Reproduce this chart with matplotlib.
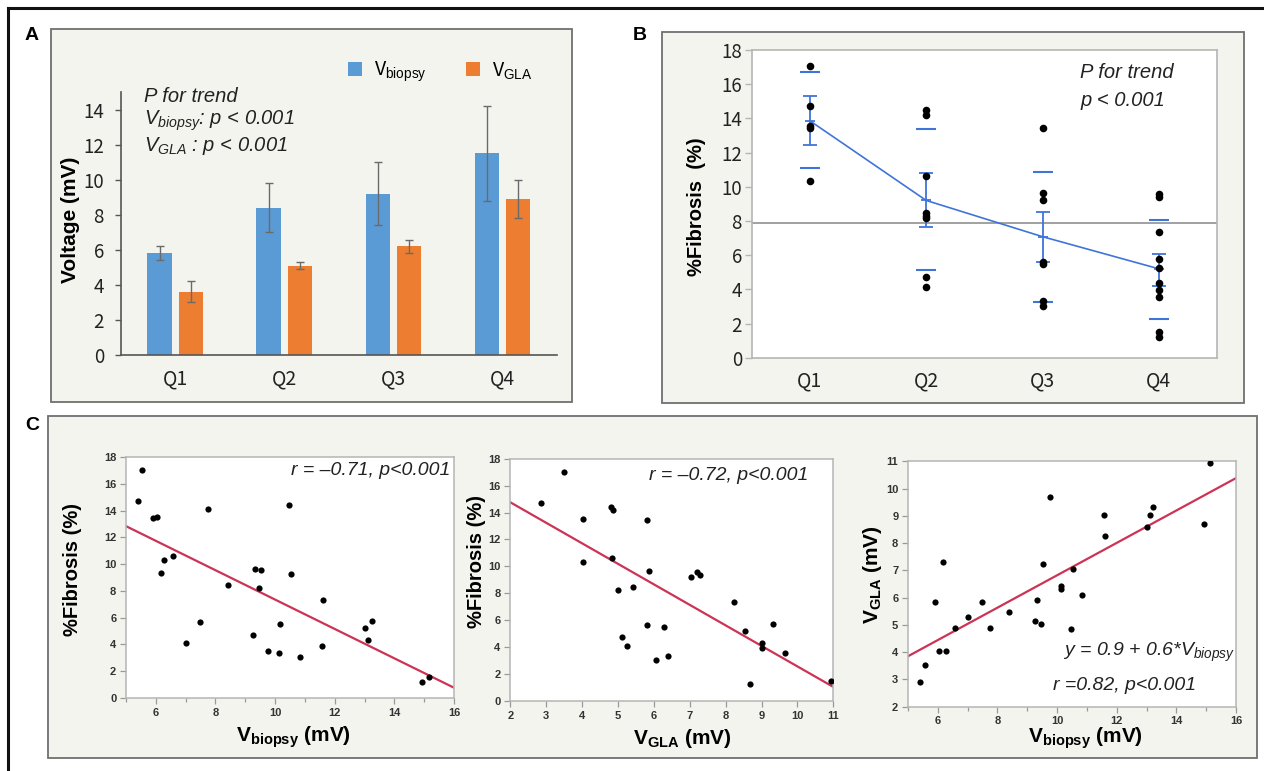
import numpy as np
import matplotlib
matplotlib.use('Agg')
import matplotlib.pyplot as plt
from matplotlib.patches import Rectangle
from matplotlib.lines import Line2D
from matplotlib.ticker import MultipleLocator

# ---------------- Data ----------------
quartiles = ['Q1', 'Q2', 'Q3', 'Q4']
v_biopsy_mean = [5.8, 8.4, 9.2, 11.5]
v_biopsy_err = [0.4, 1.4, 1.8, 2.7]
v_gla_mean = [3.6, 5.1, 6.2, 8.9]
v_gla_err = [0.6, 0.18, 0.38, 1.1]

fib_q1 = [17.05, 14.75, 13.55, 13.45, 10.35]
fib_q2 = [14.47, 14.18, 10.65, 8.45, 8.3, 8.2, 4.74, 4.11]
fib_q3 = [13.46, 9.63, 9.22, 5.62, 5.48, 3.33, 3.0]
fib_q4 = [9.58, 9.38, 7.35, 5.77, 5.24, 4.36, 3.97, 3.54, 1.52, 1.23]
fib_mean = [13.86, 9.2, 7.08, 5.2]
fib_se_low = [12.46, 7.66, 5.62, 4.22]
fib_se_high = [15.31, 10.78, 8.54, 6.08]
fib_sd_low = [11.12, 5.11, 3.28, 2.25]
fib_sd_high = [16.69, 13.38, 10.88, 8.03]
fib_overall_mean = 7.9

c1_vbiopsy = [5.41, 5.55, 5.91, 6.04, 6.18, 6.28, 6.57, 7.01, 7.49, 7.76, 8.41, 9.27, 9.31, 9.46,
              9.53, 9.76, 10.14, 10.15, 10.47, 10.55, 10.84, 11.57, 11.62, 13.03, 13.12, 13.25, 14.94, 15.16]
c1_fibrosis = [14.75, 17.05, 13.45, 13.53, 9.34, 10.33, 10.63, 4.14, 5.64, 14.13, 8.44, 4.74, 9.64, 8.24,
               9.54, 3.54, 3.34, 5.54, 14.43, 9.24, 3.05, 3.92, 7.34, 5.24, 4.34, 5.74, 1.22, 1.55]
fit1 = (18.32, -1.097)

c2_vgla = [2.86, 3.50, 4.02, 4.03, 4.81, 4.85, 4.83, 4.99, 5.10, 5.26, 5.43, 5.80, 5.82, 5.87,
           6.05, 6.27, 6.40, 7.04, 7.20, 7.28, 8.23, 8.54, 8.69, 9.00, 9.01, 9.31, 9.65, 10.93]
c2_fibrosis = [14.73, 17.04, 13.54, 10.35, 14.43, 14.16, 10.62, 8.22, 4.73, 4.11, 8.44, 13.44, 5.62, 9.63,
               3.02, 5.52, 3.32, 9.23, 9.56, 9.36, 7.33, 5.22, 1.24, 4.31, 3.94, 5.74, 3.54, 1.51]
fit2 = (17.81, -1.524)

c3_vbiopsy = [5.41, 5.58, 5.92, 6.04, 6.19, 6.29, 6.58, 7.00, 7.49, 7.76, 8.40, 9.27, 9.31, 9.46,
              9.52, 9.76, 10.12, 10.14, 10.46, 10.54, 10.84, 11.57, 11.62, 13.03, 13.11, 13.23, 14.93, 15.14]
c3_vgla = [2.89, 3.53, 5.83, 4.04, 7.32, 4.05, 4.87, 5.29, 5.85, 4.89, 5.46, 5.13, 5.90, 5.02,
           7.23, 9.68, 6.44, 6.30, 4.85, 7.06, 6.08, 9.04, 8.26, 8.58, 9.03, 9.32, 8.71, 10.95]
fit3 = (0.88, 0.594)

# ---------------- Style ----------------
plt.rcParams['mathtext.fontset'] = 'custom'
plt.rcParams['mathtext.rm'] = 'Liberation Sans'
plt.rcParams['mathtext.it'] = 'Liberation Sans:italic'
plt.rcParams['mathtext.bf'] = 'Liberation Sans:bold'
plt.rcParams['font.family'] = ['Liberation Sans', 'DejaVu Sans']

W, H = 1264, 771
fig = plt.figure(figsize=(W / 100, H / 100), dpi=100)
fig.patch.set_facecolor('white')


def fx(x):
    return x / W


def fy(y):
    return 1 - y / H


def rect(l, t, r, b):
    return [l / W, 1 - b / H, (r - l) / W, (b - t) / H]


def panel(l, t, r, b):
    fig.add_artist(Rectangle((fx(l), fy(b)), (r - l) / W, (b - t) / H, transform=fig.transFigure,
                             facecolor='#f4f4ef', edgecolor='#707070', lw=1.3, zorder=0))


# outer frame (top & left)
fig.add_artist(Line2D([fx(8), 1], [fy(8), fy(8)], transform=fig.transFigure, color='#111', lw=2.2))
fig.add_artist(Line2D([fx(8), fx(8)], [fy(8), 0], transform=fig.transFigure, color='#111', lw=2.2))

panel(51, 29, 572, 402)
panel(662, 32, 1244, 403)
panel(48, 416, 1257, 758)

for lab, (x, y) in zip(['A', 'B', 'C'], [(32, 35), (640, 35), (32, 425)]):
    fig.text(fx(x), fy(y), lab, ha='center', va='center', fontsize=14, fontweight='bold')

JP = 'Noto Sans CJK JP'

# ---------------- Panel A ----------------
axA = fig.add_axes(rect(120.6, 92, 557, 355))
axA.set_facecolor('none')
xq = np.arange(len(quartiles))
off, bw = 0.143, 0.224
bars_b = axA.bar(xq - off, v_biopsy_mean, bw, color='#5b9bd5', label=r'V$_{\mathrm{biopsy}}$', zorder=2)
bars_g = axA.bar(xq + off, v_gla_mean, bw, color='#ed7d31', label=r'V$_{\mathrm{GLA}}$', zorder=2)
axA.errorbar(xq - off, v_biopsy_mean, yerr=v_biopsy_err, fmt='none', ecolor='#6a6a6a',
             elinewidth=1, capsize=3, capthick=1, zorder=3)
axA.errorbar(xq + off, v_gla_mean, yerr=v_gla_err, fmt='none', ecolor='#6a6a6a',
             elinewidth=1, capsize=3, capthick=1, zorder=3)
axA.set_xlim(-0.5, 3.5)
axA.set_ylim(0, 15)
axA.set_yticks(np.arange(0, 15, 2))
axA.set_xticks(xq)
axA.set_xticklabels(quartiles, family=JP)
for s in ['top', 'right']:
    axA.spines[s].set_visible(False)
for s in ['left', 'bottom']:
    axA.spines[s].set_color('#555')
    axA.spines[s].set_linewidth(1.2)
axA.tick_params(axis='x', length=0, pad=10, labelsize=14, labelcolor='#222')
axA.tick_params(axis='y', length=4, width=1, color='#555', pad=8, labelsize=13.5, labelcolor='#222')
for t in axA.get_yticklabels():
    t.set_family(JP)
axA.set_ylabel('Voltage (mV)', fontsize=15, fontweight='bold', va='center')
axA.yaxis.set_label_coords(fx(71), fy(220), transform=fig.transFigure)
axA.legend(handles=[bars_b, bars_g], ncol=2, frameon=False, loc='center',
           bbox_to_anchor=(fx(440), fy(72)), bbox_transform=fig.transFigure,
           handlelength=0.75, handleheight=0.75, handletextpad=0.6, columnspacing=2.0,
           prop={'family': JP, 'size': 14})
fig.text(fx(144), fy(96), 'P for trend', ha='left', va='center', style='italic', fontsize=14.5, color='#222')
fig.text(fx(144), fy(121), r'$V_{biopsy}$: p < 0.001', ha='left', va='center', style='italic',
         fontsize=14.5, color='#222')
fig.text(fx(144), fy(146), r'$V_{GLA}$ : p < 0.001', ha='left', va='center', style='italic',
         fontsize=14.5, color='#222')

# ---------------- Panel B ----------------
axB = fig.add_axes(rect(751.7, 50, 1217, 357.7))
axB.set_facecolor('white')
qpos = np.arange(1, 5)
blue = '#3f74d9'
for i, vals in enumerate([fib_q1, fib_q2, fib_q3, fib_q4]):
    axB.scatter(np.full(len(vals), qpos[i]), vals, s=30, color='black', zorder=4, linewidths=0)
axB.axhline(fib_overall_mean, color='#9a9a9a', lw=1.3, zorder=1)
axB.plot(qpos, fib_mean, color=blue, lw=1.2, zorder=3)
se_low = np.array(fib_mean) - np.array(fib_se_low)
se_high = np.array(fib_se_high) - np.array(fib_mean)
axB.errorbar(qpos, fib_mean, yerr=[se_low, se_high], fmt='none', ecolor=blue, elinewidth=1.3,
             capsize=5, capthick=1.3, zorder=3)
axB.plot(qpos, fib_mean, ls='none', marker='_', ms=7, mew=1.3, color=blue, zorder=3)
axB.plot(qpos, fib_sd_low, ls='none', marker='_', ms=15, mew=1.5, color=blue, zorder=3)
axB.plot(qpos, fib_sd_high, ls='none', marker='_', ms=15, mew=1.5, color=blue, zorder=3)
axB.set_xlim(0.5, 4.5)
axB.set_ylim(0, 18)
axB.set_yticks(np.arange(0, 19, 2))
axB.set_xticks(qpos)
axB.set_xticklabels(quartiles, family=JP)
for s in axB.spines.values():
    s.set_color('#b5b5b5')
    s.set_linewidth(1.2)
axB.tick_params(axis='x', length=0, pad=9, labelsize=14, labelcolor='#222')
axB.tick_params(axis='y', length=5, width=1, color='#b5b5b5', pad=2, labelsize=13.5, labelcolor='#222')
for t in axB.get_yticklabels():
    t.set_family(JP)
axB.set_ylabel('%Fibrosis  (%)', fontsize=14.5, fontweight='bold', va='center')
axB.yaxis.set_label_coords(fx(696), fy(207), transform=fig.transFigure)
fig.text(fx(1080), fy(73), 'P for trend', ha='left', va='center', style='italic', fontsize=14.5, color='#222')
fig.text(fx(1080), fy(100), 'p < 0.001', ha='left', va='center', style='italic', fontsize=14.5, color='#222')

# ---------------- Panel C ----------------
red = '#cc3355'


def style_c(ax):
    ax.set_facecolor('white')
    for s in ax.spines.values():
        s.set_color('#b5b5b5')
        s.set_linewidth(1.1)
    ax.tick_params(which='both', direction='out', color='#999', width=0.9, labelsize=8,
                   labelcolor='#333', pad=3)
    ax.tick_params(which='major', length=4)
    ax.tick_params(which='minor', length=3)
    for t in ax.get_xticklabels() + ax.get_yticklabels():
        t.set_fontweight('bold')


# C1
ax1 = fig.add_axes(rect(126, 457, 454, 698))
ax1.scatter(c1_vbiopsy, c1_fibrosis, s=20, color='black', zorder=3, linewidths=0)
xl = np.array([5, 16])
ax1.plot(xl, fit1[0] + fit1[1] * xl, color=red, lw=1.6, zorder=2)
ax1.set_xlim(5, 16)
ax1.set_ylim(0, 18)
ax1.set_xticks(np.arange(6, 17, 2))
ax1.xaxis.set_minor_locator(MultipleLocator(1))
ax1.set_yticks(np.arange(0, 19, 2))
style_c(ax1)
ax1.set_ylabel('%Fibrosis (%)', fontsize=14.5, fontweight='bold', va='center')
ax1.yaxis.set_label_coords(fx(72), fy(570), transform=fig.transFigure)
ax1.set_xlabel(r'$\mathbf{V_{biopsy}}$ (mV)', fontsize=15, fontweight='bold', va='center')
ax1.xaxis.set_label_coords(fx(293), fy(737), transform=fig.transFigure)
fig.text(fx(450), fy(470), r'r = –0.71, p<0.001', ha='right', va='center', style='italic',
         fontsize=14, color='#222')

# C2
ax2 = fig.add_axes(rect(510.3, 458.7, 833.3, 701))
ax2.scatter(c2_vgla, c2_fibrosis, s=20, color='black', zorder=3, linewidths=0)
xl2 = np.array([2, 11])
ax2.plot(xl2, fit2[0] + fit2[1] * xl2, color=red, lw=1.6, zorder=2)
ax2.set_xlim(2, 11)
ax2.set_ylim(0, 18)
ax2.set_xticks(np.arange(2, 12, 1))
ax2.set_yticks(np.arange(0, 19, 2))
style_c(ax2)
ax2.set_ylabel('%Fibrosis (%)', fontsize=14.5, fontweight='bold', va='center')
ax2.yaxis.set_label_coords(fx(476), fy(562), transform=fig.transFigure)
ax2.set_xlabel(r'$\mathbf{V_{GLA}}$ (mV)', fontsize=15, fontweight='bold', va='center')
ax2.xaxis.set_label_coords(fx(682), fy(739), transform=fig.transFigure)
fig.text(fx(808), fy(476), r'r = –0.72, p<0.001', ha='right', va='center', style='italic',
         fontsize=14, color='#222')

# C3
ax3 = fig.add_axes(rect(908, 461.3, 1236, 706.7))
ax3.scatter(c3_vbiopsy, c3_vgla, s=20, color='black', zorder=3, linewidths=0)
xl3 = np.array([5, 16])
ax3.plot(xl3, fit3[0] + fit3[1] * xl3, color=red, lw=1.6, zorder=2)
ax3.set_xlim(5, 16)
ax3.set_ylim(2, 11)
ax3.set_xticks(np.arange(6, 17, 2))
ax3.xaxis.set_minor_locator(MultipleLocator(1))
ax3.set_yticks(np.arange(2, 12, 1))
style_c(ax3)
ax3.set_ylabel(r'$\mathbf{V_{GLA}}$ (mV)', fontsize=15, fontweight='bold', va='center')
ax3.yaxis.set_label_coords(fx(872), fy(575), transform=fig.transFigure)
ax3.set_xlabel(r'$\mathbf{V_{biopsy}}$ (mV)', fontsize=15, fontweight='bold', va='center')
ax3.xaxis.set_label_coords(fx(1085), fy(738), transform=fig.transFigure)
fig.text(fx(1235), fy(652), r'y = 0.9 + 0.6*$V_{biopsy}$', ha='right', va='center', style='italic',
         fontsize=14, color='#222')
fig.text(fx(1053), fy(685), r'r =0.82, p<0.001', ha='left', va='center', style='italic',
         fontsize=14, color='#222')

fig.savefig('out.png', dpi=100, facecolor='white')
